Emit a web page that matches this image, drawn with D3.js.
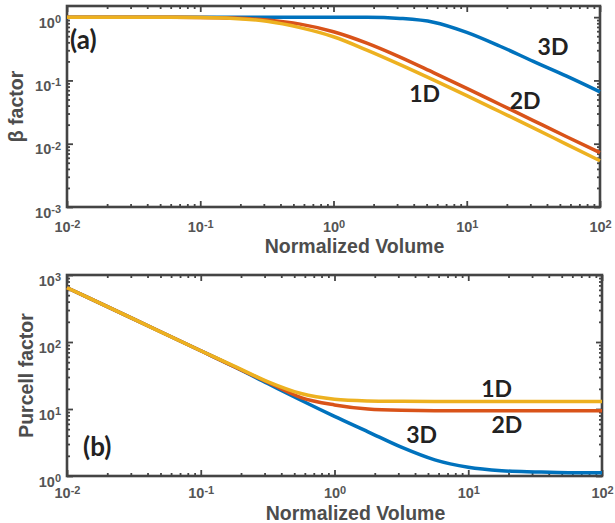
<!DOCTYPE html>
<html>
<head>
<meta charset="utf-8">
<script src="https://cdn.jsdelivr.net/npm/d3@7"></script>
<style>
body { margin: 0; background: #fff; }
</style>
</head>
<body>
<div class="chart"></div>
<script>
// normalized volume samples, shared by every curve
var volume = [0.01, 0.0316, 0.1, 0.178, 0.316, 0.562, 1, 1.78, 3.16, 5.62, 10, 17.8, 31.6, 56.2, 100];

// (a) beta factor
var beta1D = [1, 1, 0.989, 0.955, 0.861, 0.684, 0.490, 0.302, 0.178, 0.102, 0.0575, 0.0320, 0.0178, 0.00977, 0.00537];
var beta2D = [1, 1, 0.991, 0.966, 0.902, 0.776, 0.589, 0.389, 0.234, 0.133, 0.075, 0.0417, 0.0232, 0.0129, 0.00724];
var beta3D = [1, 1, 1, 1, 1, 1, 1, 0.998, 0.955, 0.832, 0.575, 0.347, 0.2, 0.117, 0.066];

// (b) Purcell factor
var purcell1D = [646, 219, 74.1, 43.7, 25.7, 17.0, 14.0, 13.2, 13.0, 12.9, 12.9, 12.9, 12.9, 12.9, 12.9];
var purcell2D = [646, 219, 74.1, 42.7, 25.1, 14.8, 11.5, 10.0, 9.55, 9.44, 9.44, 9.44, 9.44, 9.44, 9.44];
var purcell3D = [646, 219, 74.1, 42.7, 24.0, 13.5, 7.76, 4.57, 2.69, 1.74, 1.35, 1.20, 1.15, 1.12, 1.12];

var dims = ["1D", "2D", "3D"];

// tick values
var xTicks = [0.01, 0.1, 1, 10, 100];
var betaTicks = [0.001, 0.01, 0.1, 1];
var purcellTicks = [1, 10, 100, 1000];

// curve labels, placed in data units
var labelsA = [["3D", 34, 0.25], ["1D", 3.7, 0.046], ["2D", 21, 0.036]];
var labelsB = [["1D", 12.5, 15.1], ["2D", 14.9, 4.38], ["3D", 3.44, 3.11]];

var colors = {"1D": "#EDB120", "2D": "#D95319", "3D": "#0072BD"};

var svg = d3.select(".chart").append("svg")
	.attr("width", 615).attr("height", 523);

//minor ticks 2..9 of each decade inside a domain
function minorTicks(domain) {
	var out = [];
	for (var e = -4; e <= 4; e++) {
		for (var k = 2; k <= 9; k++) {
			var v = k * Math.pow(10, e);
			if (v > domain[0] && v < domain[1]) out.push(v);
		}
	}
	return out;
}

//turn tick text into 10 with a superscript exponent
function powerLabel(sel) {
	sel.each(function(d) {
		var t = d3.select(this);
		var e = Math.round(Math.log10(d));
		t.text("10");
		t.append("tspan").attr("dy", "-0.42em").attr("font-size", "11px").text(e < 0 ? "-" + (-e) : e);
	});
}

function panel(opt) {
	var w = opt.w, h = opt.h;
	var g = svg.append("g").attr("transform", "translate(" + opt.left + "," + opt.top + ")");

	var x = d3.scaleLog().domain([0.01, 100]).range([0, w]);
	var y = d3.scaleLog().domain(opt.yDomain).range([h, 0]);

	//box
	g.append("rect").attr("width", w).attr("height", h)
		.attr("fill", "none").attr("stroke", "#444").attr("stroke-width", 2.6);

	var xMinor = minorTicks(x.domain()), yMinor = minorTicks(y.domain());

	var axes = [
		[d3.axisBottom(x), "translate(0," + h + ")", xTicks, xMinor],
		[d3.axisTop(x), "translate(0,0)", xTicks, xMinor],
		[d3.axisLeft(y), "translate(0,0)", opt.yTicks, yMinor],
		[d3.axisRight(y), "translate(" + w + ",0)", opt.yTicks, yMinor]
	];
	axes.forEach(function(a, i) {
		var major = g.append("g").attr("transform", a[1])
			.call(a[0].tickValues(a[2]).tickSizeInner(-6).tickSizeOuter(0).tickPadding(i == 0 ? opt.xPad : 6));
		var minor = g.append("g").attr("transform", a[1])
			.call(a[0].tickValues(a[3]).tickSizeInner(-3).tickSizeOuter(0).tickFormat(""));
		[major, minor].forEach(function(s) {
			s.select(".domain").remove();
			s.selectAll("line").attr("stroke", "#444").attr("stroke-width", 1.8);
		});
		major.selectAll("text")
			.attr("fill", "#555").attr("font-family", "Liberation Sans, Arial, sans-serif")
			.attr("font-size", "14.5px").attr("font-weight", "bold");
		if (i == 0) major.selectAll("text").attr("dy", "0.71em").call(powerLabel);
		else if (i == 2) major.selectAll("text").attr("dy", "0.7em").call(powerLabel);
		else major.selectAll("text").remove();
	});

	//curves
	var line = d3.line()
		.x(function(d) { return x(d[0]); })
		.y(function(d) { return y(d[1]); })
		.curve(d3.curveMonotoneX);

	["3D", "2D", "1D"].forEach(function(k) {
		var pts = volume.map(function(v, i) { return [v, opt.series[k][i]]; });
		g.append("path").datum(pts)
			.attr("d", line)
			.attr("fill", "none")
			.attr("stroke", colors[k])
			.attr("stroke-width", 3.5)
			.attr("stroke-linejoin", "round");
	});

	//curve labels
	g.selectAll(".lab").data(opt.labels).enter().append("text")
		.attr("x", function(d) { return x(d[1]); })
		.attr("y", function(d) { return y(d[2]); })
		.attr("font-family", "Lato, sans-serif").attr("font-weight", "bold")
		.attr("font-size", "23px").attr("fill", "#222")
		.text(function(d) { return d[0]; });

	//panel letter
	g.append("text")
		.attr("x", opt.tagPos[0]).attr("y", opt.tagPos[1])
		.attr("font-family", "Lato, sans-serif").attr("font-weight", "bold")
		.attr("font-size", "26px").attr("fill", "#222")
		.text(opt.tag);

	//axis titles
	g.append("text")
		.attr("x", w / 2 + 21).attr("y", h + opt.xTitleDy)
		.attr("text-anchor", "middle")
		.attr("font-family", "Liberation Sans, Arial, sans-serif").attr("font-weight", "bold")
		.attr("font-size", "19.5px").attr("fill", "#4d4d4d")
		.text("Normalized Volume");

	g.append("text")
		.attr("transform", "translate(" + opt.yTitleDx + "," + (h / 2) + ") rotate(-90)")
		.attr("text-anchor", "middle")
		.attr("font-family", "Liberation Sans, Arial, sans-serif").attr("font-weight", "bold")
		.attr("font-size", "19.5px").attr("fill", "#4d4d4d")
		.text(opt.yTitle);
}

panel({
	left: 67, top: 6, w: 533, h: 201,
	yDomain: [0.001, 1.5], yTicks: betaTicks,
	series: {"1D": beta1D, "2D": beta2D, "3D": beta3D},
	labels: labelsA, tag: "(a)", tagPos: [3, 43],
	xPad: 15, xTitleDy: 45.5, yTitleDx: -44, yTitle: "β factor"
});

panel({
	left: 67, top: 275, w: 535, h: 201,
	yDomain: [1, 1000], yTicks: purcellTicks,
	series: {"1D": purcell1D, "2D": purcell2D, "3D": purcell3D},
	labels: labelsB, tag: "(b)", tagPos: [16, 181],
	xPad: 12, xTitleDy: 44, yTitleDx: -34, yTitle: "Purcell factor"
});
</script>
</body>
</html>
